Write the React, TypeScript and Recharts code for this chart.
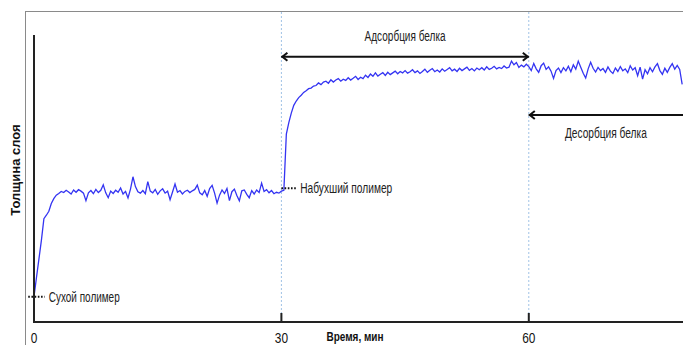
import { LineChart, Line, XAxis, YAxis, ReferenceLine } from 'recharts'

// sampling interval of the recording, min
const STEP_MIN = 0.3

// layer thickness (arb. units), 0 … 30 min: dry polymer swelling in buffer
const swelling = [
  8.8, 15.5, 22.0, 28.5, 36.0, 37.2, 38.6, 41.3, 43.0, 44.2,
  44.8, 45.5, 45.1, 45.9, 45.3, 44.6, 46.0, 45.2, 46.1, 45.6,
  44.9, 42.3, 45.0, 45.8, 44.7, 46.2, 45.1, 45.9, 47.8, 45.0,
  43.3, 45.6, 44.8, 45.9, 45.2, 46.7, 44.6, 45.5, 43.2, 46.3,
  50.6, 47.2, 45.4, 44.9, 45.8, 44.7, 48.9, 45.6, 45.0, 46.2,
  44.5, 45.7, 46.4, 44.9, 45.6, 42.6, 45.3, 48.1, 45.2, 45.8,
  44.6, 45.5, 45.9, 45.1, 45.7, 46.2, 47.7, 45.0, 44.3, 45.8,
  43.8, 46.5, 47.6, 44.9, 41.4, 44.2, 46.0, 44.8, 46.5, 42.3,
  45.4, 46.3, 44.1, 42.2, 45.7, 46.0, 44.5, 43.3, 45.8, 44.6,
  46.0, 45.1, 48.4, 45.5, 46.1, 45.0, 45.8, 44.7, 45.2, 44.9,
  45.6,
]

// 30.3 … 60 min: protein adsorption
const adsorption = [
  45.9, 65.5, 69.5, 72.8, 75.5, 77.0, 78.2, 79.0, 80.0, 80.6,
  81.3, 81.5, 82.2, 82.4, 83.3, 82.7, 83.6, 83.9, 83.2, 84.4,
  83.6, 84.3, 84.8, 83.9, 84.6, 84.2, 85.1, 84.3, 84.9, 85.6,
  84.5, 85.3, 84.8, 86.0, 85.2, 86.4, 85.6, 86.8, 85.7, 86.3,
  86.9, 85.9, 87.0, 86.2, 86.8, 87.4, 86.5, 87.3, 86.8, 87.6,
  86.7, 87.2, 87.9, 86.9, 87.5, 86.6, 87.3, 88.1, 87.0, 87.7,
  88.3, 87.2, 87.8, 87.1, 88.2, 87.4, 88.0, 88.6, 87.5, 88.1,
  87.3, 88.4, 87.6, 88.2, 88.8, 87.7, 88.3, 87.5, 88.5, 87.9,
  88.6, 87.8, 88.9, 88.0, 88.4, 89.1, 88.2, 88.7, 88.3, 89.2,
  88.5, 88.8, 90.9, 89.6, 90.4, 88.7, 89.5, 88.9, 89.8, 89.0,
]

// 60.3 … 78.6 min: protein desorption
const desorption = [
  87.6, 90.1, 88.2, 87.0, 89.3, 90.2, 88.0, 88.9, 87.4, 84.9,
  87.6, 88.5, 86.9, 88.6, 87.5, 89.1, 87.2, 89.6, 88.1, 90.9,
  88.8, 86.7, 85.0, 88.2, 90.5, 88.4, 87.1, 88.7, 87.6, 88.3,
  87.0, 88.9, 87.4, 86.6, 88.5, 87.3, 89.0, 87.5, 88.2, 86.9,
  89.3, 87.8, 88.6, 85.8, 88.8, 84.6, 87.9, 86.5, 88.6, 87.2,
  88.9, 90.0, 87.6, 86.3, 88.4, 87.0, 88.7, 90.0, 88.1, 89.4,
  88.0, 82.8,
]

const timeTicks = [0, 30, 60]
const phaseBounds = [30, 60]

const thickness = [...swelling, ...adsorption, ...desorption]
const data = thickness.map((v, i) => ({ t: +(i * STEP_MIN).toFixed(1), v }))

// the source used a narrow face; squeeze Liberation Sans to the same widths
const FONT = "'Liberation Sans', Arial, sans-serif"

const TimeTick = (props: any) => {
  const { x, y, payload } = props
  const label = String(payload.value)
  return (
    <g>
      <line x1={x} x2={x} y1={y - 9} y2={y + 1} stroke="#222" strokeWidth={2} />
      <text
        x={x}
        y={y + 21}
        textAnchor="middle"
        fontSize={15}
        fill="#111"
        fontFamily={FONT}
        textLength={label.length * 6.6}
        lengthAdjust="spacingAndGlyphs"
      >
        {label}
      </text>
    </g>
  )
}

// dotted leader with a note to its right
const noteShape = (text: string, width: number) => (p: any) => (
  <g>
    <line x1={p.x1} y1={p.y1} x2={p.x2} y2={p.y2} stroke="#111" strokeWidth={2} strokeDasharray="1.6 1.6" />
    <text
      x={p.x2 + 4}
      y={p.y2}
      dominantBaseline="central"
      fontSize={14}
      fill="#222"
      fontFamily={FONT}
      textLength={width}
      lengthAdjust="spacingAndGlyphs"
    >
      {text}
    </text>
  </g>
)

const arrowShape = (text: string, width: number, both: boolean, labelDy: number) => (p: any) => {
  const { x1, y1, x2 } = p
  return (
    <g stroke="#111" strokeWidth={2} fill="none">
      <line x1={x1} y1={y1} x2={x2} y2={y1} />
      <polyline points={`${x1 + 6},${y1 - 4} ${x1 + 1},${y1} ${x1 + 6},${y1 + 4}`} />
      {both && <polyline points={`${x2 - 6},${y1 - 4} ${x2 - 1},${y1} ${x2 - 6},${y1 + 4}`} />}
      <text
        x={(x1 + x2) / 2}
        y={y1 + labelDy}
        textAnchor="middle"
        dominantBaseline="central"
        fontSize={14}
        fill="#222"
        stroke="none"
        fontFamily={FONT}
        textLength={width}
        lengthAdjust="spacingAndGlyphs"
      >
        {text}
      </text>
    </g>
  )
}

export default function App() {
  return (
    <div style={{ position: 'absolute', left: 0, top: 0, width: 683, height: 345, overflow: 'hidden', background: '#fff' }}>
      <div
        style={{
          position: 'absolute',
          left: 25,
          top: 11,
          width: 700,
          height: 400,
          borderTop: '1.5px solid #8a8a8a',
          borderLeft: '1.5px solid #8a8a8a',
        }}
      />
      <div style={{ position: 'absolute', left: 0, top: 0 }}>
        <LineChart width={683} height={345} data={data} margin={{ top: 35, right: 0, bottom: 0, left: 0 }}>
          <XAxis
            dataKey="t"
            type="number"
            domain={[0, 78.7]}
            ticks={timeTicks}
            height={23}
            tickSize={0}
            tickMargin={0}
            tickLine={false}
            tick={<TimeTick />}
            axisLine={{ stroke: '#222', strokeWidth: 2 }}
            allowDataOverflow
            label={{
              value: 'Время, мин',
              content: () => (
                <text
                  x={355}
                  y={341}
                  textAnchor="middle"
                  fontSize={12}
                  fontWeight="bold"
                  fill="#111"
                  fontFamily={FONT}
                  textLength={57}
                  lengthAdjust="spacingAndGlyphs"
                >
                  Время, мин
                </text>
              ),
            }}
          />
          <YAxis
            type="number"
            domain={[0, 100]}
            width={34}
            tick={false}
            tickLine={false}
            axisLine={{ stroke: '#222', strokeWidth: 2 }}
            allowDataOverflow
            label={{
              value: 'Толщина слоя',
              content: () => (
                <text
                  x={15}
                  y={170}
                  transform="rotate(-90 15 170)"
                  textAnchor="middle"
                  dominantBaseline="central"
                  fontSize={13}
                  fontWeight="bold"
                  fill="#111"
                  fontFamily={FONT}
                >
                  Толщина слоя
                </text>
              ),
            }}
          />
          {phaseBounds.map((b) => (
            <ReferenceLine
              key={b}
              segment={[{ x: b, y: 0 }, { x: b, y: 108.4 }]}
              stroke="#9fc2e6"
              strokeWidth={1}
              strokeDasharray="2 2"
              ifOverflow="visible"
            />
          ))}
          <Line type="linear" dataKey="v" stroke="#3434f2" strokeWidth={1.3} dot={false} isAnimationActive={false} />
          <ReferenceLine
            segment={[{ x: -0.7, y: 8.8 }, { x: 1.3, y: 8.8 }]}
            ifOverflow="visible"
            shape={noteShape('Сухой полимер', 71)}
          />
          <ReferenceLine
            segment={[{ x: 30, y: 46.6 }, { x: 31.8, y: 46.6 }]}
            ifOverflow="visible"
            shape={noteShape('Набухший полимер', 92)}
          />
          <ReferenceLine
            segment={[{ x: 30, y: 92.4 }, { x: 60, y: 92.4 }]}
            ifOverflow="visible"
            shape={arrowShape('Адсорбция белка', 81, true, -21)}
          />
          <ReferenceLine
            segment={[{ x: 60, y: 72.1 }, { x: 78.7, y: 72.1 }]}
            ifOverflow="visible"
            shape={arrowShape('Десорбция белка', 82, false, 18)}
          />
        </LineChart>
      </div>
    </div>
  )
}
